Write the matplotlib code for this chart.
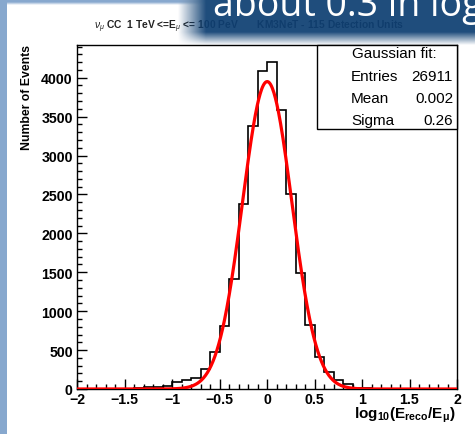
import numpy as np
import matplotlib
matplotlib.use("Agg")
import matplotlib.pyplot as plt
from matplotlib.patches import Rectangle

# ---- data ----
bin_edges = np.round(np.arange(-2.0, 2.0001, 0.1), 2)
counts = [0, 0, 0, 0, 0, 0, 8, 20, 25, 40,
          95, 112, 140, 258, 472, 805, 1415, 2380, 3385, 4080,
          4200, 3580, 2510, 1490, 822, 408, 215, 112, 60, 18,
          18, 0, 0, 0, 0, 0, 0, 0, 0, 0]
fit_const = 3950.0
fit_mean = 0.002
fit_sigma = 0.26
stats_labels = ["Entries", "Mean", "Sigma"]
stats_values = ["26911", "0.002", "0.26"]
x_ticks = [-2, -1.5, -1, -0.5, 0, 0.5, 1, 1.5, 2]
x_ticklabels = ["\u22122", "\u22121.5", "\u22121", "\u22120.5", "0", "0.5", "1", "1.5", "2"]
y_ticks = [0, 500, 1000, 1500, 2000, 2500, 3000, 3500, 4000]

plt.rcParams['font.family'] = ['Liberation Sans', 'DejaVu Sans']
plt.rcParams['mathtext.fontset'] = 'custom'
plt.rcParams['mathtext.rm'] = 'Liberation Sans'
plt.rcParams['mathtext.bf'] = 'Liberation Sans:bold'
plt.rcParams['mathtext.it'] = 'Liberation Sans:italic'

W, H = 475, 435
fig = plt.figure(figsize=(W / 100, H / 100), dpi=100)
fig.patch.set_facecolor("white")

x0, x1, ytop, ybot = 77, 457, 46, 390
ax = fig.add_axes([x0 / W, 1 - ybot / H, (x1 - x0) / W, (ybot - ytop) / H])

ax.stairs(counts, bin_edges, color="black", lw=1.2, zorder=3)
xs = np.linspace(-2, 2, 800)
ax.plot(xs, fit_const * np.exp(-0.5 * ((xs - fit_mean) / fit_sigma) ** 2),
        color="#ff0000", lw=2.3, zorder=4)

ax.set_xlim(-2, 2)
ax.set_ylim(0, 4420)
ax.set_xticks(x_ticks)
ax.set_xticklabels(x_ticklabels)
ax.set_yticks(y_ticks)
ax.set_xticks(np.round(np.arange(-2, 2.001, 0.1), 2), minor=True)
ax.set_yticks(np.arange(0, 4401, 100), minor=True)
ax.tick_params(which="both", direction="in", top=False, right=False, width=1.0)
ax.tick_params(which="major", length=7, labelsize=10.2)
ax.tick_params(which="minor", length=3.5)
ax.tick_params(axis="y", pad=3)
ax.tick_params(axis="x", pad=2)
for lab in ax.get_xticklabels() + ax.get_yticklabels():
    lab.set_fontweight("bold")
for s in ax.spines.values():
    s.set_linewidth(1.0)

# stats box
bx0 = (317 - x0) / (x1 - x0)
by0 = (ybot - 130) / (ybot - ytop)
ax.add_patch(Rectangle((bx0, by0), 1 - bx0, 1 - by0, transform=ax.transAxes,
                       facecolor="white", edgecolor="black", lw=1.0, zorder=6,
                       clip_on=False))
def ay(py):
    return (ybot - py) / (ybot - ytop)
def axx(px):
    return (px - x0) / (x1 - x0)
ax.text(axx(394), ay(54), "Gaussian fit:", transform=ax.transAxes, ha="center",
        va="center", fontsize=11, zorder=7)
for i, (lab, val) in enumerate(zip(stats_labels, stats_values)):
    yy = ay(77 + i * 22)
    ax.text(axx(351), yy, lab, transform=ax.transAxes, ha="left", va="center",
            fontsize=11, zorder=7)
    ax.text(axx(453), yy, val, transform=ax.transAxes, ha="right", va="center",
            fontsize=11, zorder=7)

# axis titles
fig.text(27 / W, 1 - 45 / H, "Number of Events", rotation=90, ha="center",
         va="top", fontsize=8.8, fontweight="bold")
fig.text(455 / W, 1 - 419 / H, r"$\mathbf{log_{10}(E_{reco}/E_{\mu})}$",
         ha="right", va="baseline", fontsize=11)

# plot title (partly hidden by the slide banner)
fig.text(94 / W, 1 - 27 / H,
         r"$\nu_{\mu}$ CC  1 TeV <=E$_{\mu}$ <= 100 PeV       KM3NeT - 115 Detection Units",
         ha="left", va="center", fontsize=7.4, fontweight="bold", color="#222222")

# slide decoration overlay
ov = fig.add_axes([0, 0, 1, 1], zorder=20)
ov.set_axis_off()
yy, xx = np.mgrid[0:H, 0:W] + 0.5
img = np.zeros((H, W, 4))
dark = np.array([0.055, 0.25, 0.45])
ax_ramp = np.clip((xx - 178) / 28, 0, 1)
ay_ramp = np.clip((46 - yy) / 13, 0, 1)
a_dark = 0.93 * ax_ramp * ay_ramp
light = np.array([0.53, 0.66, 0.81])
a_light = np.where(xx < 7.5, 1.0, 0.0)
top_light = np.clip((6 - yy) / 3, 0, 1) * (1 - ax_ramp)
a_light = np.maximum(a_light, top_light)
rgb = light[None, None, :] * a_light[..., None]
alpha = a_light.copy()
rgb = dark[None, None, :] * a_dark[..., None] + rgb * (1 - a_dark[..., None])
alpha = a_dark + alpha * (1 - a_dark)
img[..., :3] = np.where(alpha[..., None] > 0, rgb / np.maximum(alpha[..., None], 1e-6), 0)
img[..., 3] = alpha
ov.imshow(img, extent=(0, W, H, 0), aspect="auto", interpolation="bilinear")
ov.set_xlim(0, W)
ov.set_ylim(H, 0)
ov.text(213, 16, "about 0.3 in log", color="white", fontsize=27,
        family="Open Sans", ha="left", va="baseline", clip_on=True)

fig.savefig("out.png", dpi=100)
